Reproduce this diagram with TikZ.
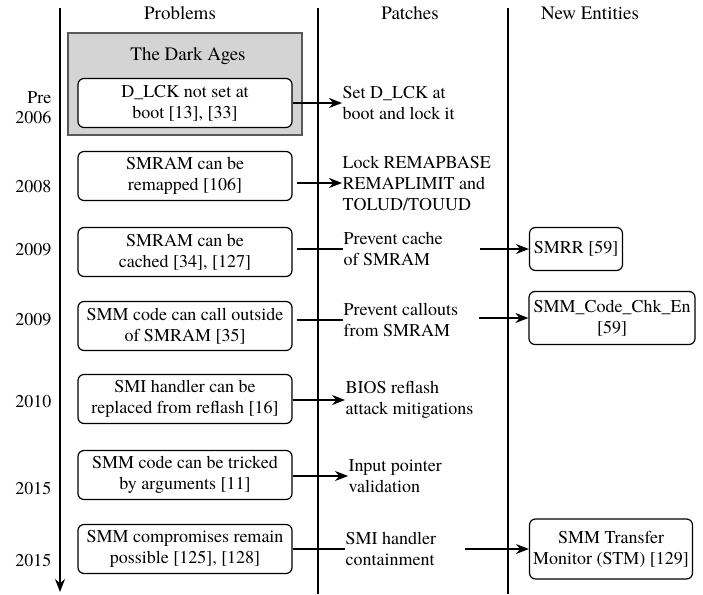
\documentclass[tikz,border=0pt]{standalone}
\usepackage{fontspec}
\setmainfont{texgyretermes}[Extension = .otf, UprightFont = *-regular, BoldFont = *-bold, ItalicFont = *-italic, BoldItalicFont = *-bolditalic]
\usetikzlibrary{arrows.meta}

\begin{document}
\begin{tikzpicture}[x = 1pt, y = -1pt, line width = 1.2pt,
                    font = \fontsize{18}{21}\selectfont,
                    prob/.style = {draw, rounded corners = 6pt, align = center, inner sep = 1pt, minimum width = 214pt, minimum height = 49pt},
                    ent/.style = {draw, rounded corners = 6pt, align = center, inner sep = 2pt},
                    patch/.style = {anchor = west, align = left, inner sep = 0pt},
                    year/.style = {anchor = east, align = right, inner sep = 0pt},
                    head/.style = {font = \fontsize{19}{21}\selectfont},
                    tip/.style = {-{Stealth[length = 13pt, width = 10pt]}}]
                            \useasboundingbox (0,0) rectangle (703,594);
                            % columns
                            \draw [tip](60,8)--(60,592);
                            \draw (318,8)--(318,594);
                            \draw (508,8)--(508,594);
                            \node (hp)[head] at (180,13) {Problems};
                            \node (hq)[head] at (410,13) {Patches};
                            \node (he)[head] at (590,13) {New Entities};
                            % the dark ages
                            \draw [fill = black!17, draw = black!65](68,33) rectangle (302,135);
                            \node (dark)[head] at (188,56) {The Dark Ages};
                            % years
                            \node [year] at (52,98) {Pre};
                            \node [year] at (52,117) {2006};
                            \node [year] at (52,187) {2008};
                            \node [year] at (52,250) {2009};
                            \node [year] at (52,320) {2009};
                            \node [year] at (52,402) {2010};
                            \node [year] at (52,488) {2015};
                            \node [year] at (52,560) {2015};
                            % problems
                            \node (p1)[prob, fill = white] at (185,103) {D\_LCK not set at\\boot [13], [33]};
                            \node (p2)[prob] at (185,176) {SMRAM can be\\remapped [106]};
                            \node (p3)[prob] at (185,252) {SMRAM can be\\cached [34], [127]};
                            \node (p4)[prob] at (185,326) {SMM code can call outside\\of SMRAM [35]};
                            \node (p5)[prob] at (185,399) {SMI handler can be\\replaced from reflash [16]};
                            \node (p6)[prob] at (185,475) {SMM code can be tricked\\by arguments [11]};
                            \node (p7)[prob] at (185,549) {SMM compromises remain\\possible [125], [128]};
                            % patches
                            \node (q1)[patch] at (342,103) {Set D\_LCK at\\boot and lock it};
                            \node (q2)[patch] at (342,183) {Lock REMAPBASE\\REMAPLIMIT and\\TOLUD/TOUUD};
                            \node (q3)[patch] at (343,249) {Prevent cache\\of SMRAM};
                            \node (q4)[patch] at (343,320) {Prevent callouts\\from SMRAM};
                            \node (q5)[patch] at (345,400) {BIOS reflash\\attack mitigations};
                            \node (q6)[patch] at (348,476) {Input pointer\\validation};
                            \node (q7)[patch] at (345,549) {SMI handler\\containment};
                            % new entities
                            \node (e3)[ent, minimum width = 93pt, minimum height = 43pt] at (576,249) {SMRR [59]};
                            \node (e4)[ent, minimum width = 166pt, minimum height = 53pt] at (612,318) {SMM\_Code\_Chk\_En\\{}[59]};
                            \node (e7)[ent, minimum width = 163pt, minimum height = 60pt] at (611,549) {SMM Transfer\\Monitor (STM) [129]};
                            \coordinate (c3) at (480,249);
                            \coordinate (c4) at (479,318);
                            \coordinate (c7) at (465,549);
                            % connectors
                            \draw [tip](p1.east |- q1.west)--(q1.west);
                            \draw [tip]([xshift = 4pt]p2.east |- q2.west)--(q2.west);
                            \draw ([xshift = 4pt]p3.east |- q3.west)--(q3.west);
                            \draw ([xshift = 4pt]p4.east |- q4.west)--(q4.west);
                            \draw [tip](p5.east |- q5.west)--(q5.west);
                            \draw [tip](p6.east |- q6.west)--(q6.west);
                            \draw (p7.east |- q7.west)--(q7.west);
                            \draw [tip](c3)--(e3.west);
                            \draw [tip](c4)--(e4.west);
                            \draw [tip](c7)--(e7.west);
                        \end{tikzpicture}
\end{document}
